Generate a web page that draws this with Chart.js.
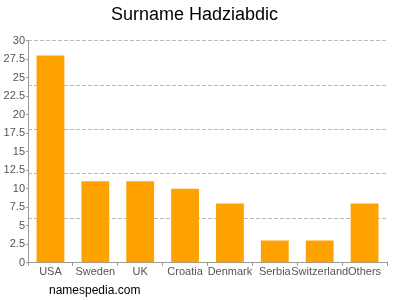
<!DOCTYPE html>
<html>
<head>
<meta charset="utf-8">
<script src="https://cdn.jsdelivr.net/npm/chart.js@4/dist/chart.umd.min.js"></script>
<style>
  html, body { margin: 0; padding: 0; background: #fff; }
  #wrap { width: 400px; height: 300px; }
</style>
</head>
<body>
<div id="wrap"><canvas id="chart" width="400" height="300"></canvas></div>
<script>
const countries = ['USA', 'Sweden', 'UK', 'Croatia', 'Denmark', 'Serbia', 'Switzerland', 'Others'];
const counts = [28, 11, 11, 10, 8, 3, 3, 8];
const yTicks = [0, 2.5, 5, 7.5, 10, 12.5, 15, 17.5, 20, 22.5, 25, 27.5, 30];
const gridSteps = [0, 6, 12, 18, 24, 30];

// footer text under the chart
const footer = {
    id: 'footer',
    afterDraw(chart) {
        const ctx = chart.ctx;
        ctx.save();
        ctx.font = '12px "Liberation Sans", Arial, sans-serif';
        ctx.fillStyle = '#000';
        ctx.textBaseline = 'middle';
        ctx.fillText('namespedia.com', 49, 291);
        ctx.restore();
    }
};

new Chart(document.getElementById('chart'), {
    type: 'bar',
    data: {
        labels: countries,
        datasets: [{
            data: counts,
            backgroundColor: '#ffa200',
            categoryPercentage: 0.62,
            barPercentage: 1.0,
        }]
    },
    options: {
        responsive: false,
        animation: false,
        layout: { padding: { left: 2, right: 13, top: 0, bottom: 21 } },
        plugins: {
            legend: { display: false },
            tooltip: { enabled: false },
            title: {
                display: true,
                text: 'Surname Hadziabdic',
                color: '#000',
                font: { family: '"Liberation Sans", Arial, sans-serif', size: 18, weight: 'normal' },
                padding: { top: 4, bottom: 15 },
            },
        },
        scales: {
            x: {
                grid: { drawOnChartArea: false, drawTicks: true, tickLength: 3, color: '#999' },
                border: { display: true, color: '#999' },
                ticks: {
                    color: '#555',
                    font: { family: '"Liberation Sans", Arial, sans-serif', size: 11 },
                    maxRotation: 0,
                    autoSkip: false,
                    padding: 0,
                },
            },
            y: {
                min: 0,
                max: 30,
                afterBuildTicks: scale => { scale.ticks = yTicks.map(v => ({ value: v })); },
                afterFit: scale => { scale.width = 26; },
                grid: { drawOnChartArea: false, drawTicks: true, tickLength: 2, color: '#999' },
                border: { display: true, color: '#999' },
                ticks: {
                    color: '#555',
                    font: { family: '"Liberation Sans", Arial, sans-serif', size: 11 },
                    padding: 1,
                },
            },
            y2: {
                position: 'right',
                min: 0,
                max: 30,
                display: true,
                afterBuildTicks: scale => { scale.ticks = gridSteps.map(v => ({ value: v })); },
                afterFit: scale => { scale.width = 0; },
                grid: { color: '#bbb', drawTicks: false },
                border: { display: false, dash: [4, 2] },
                ticks: { display: false },
            },
        },
    },
    plugins: [footer],
});
</script>
</body>
</html>
